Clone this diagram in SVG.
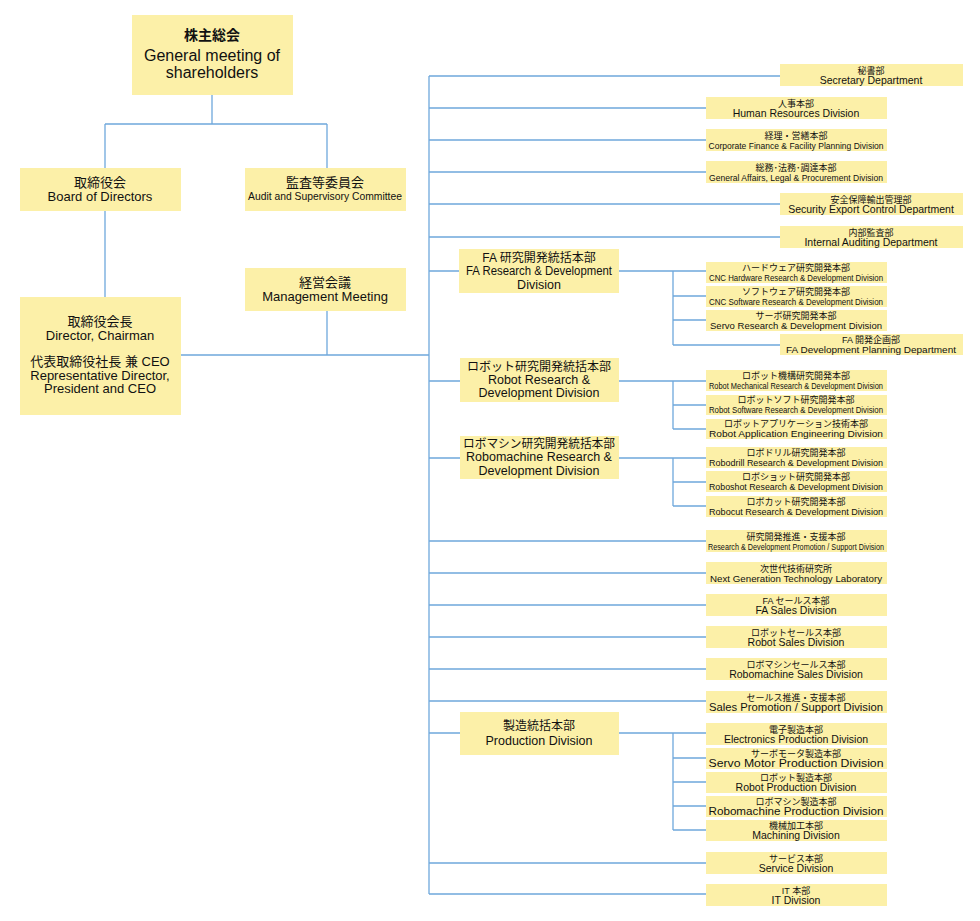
<svg xmlns="http://www.w3.org/2000/svg" width="980" height="921" viewBox="0 0 980 921">
<style>
rect.b{fill:#fcf0a8}
text{font-family:"Liberation Sans","Noto Sans CJK JP",sans-serif;text-anchor:middle;fill:#111}
.j{font-size:9px}.e{font-size:10.5px}.c{font-size:9.5px}
.mj{font-size:12px}.me{font-size:12.5px}
.lj{font-size:13px}.le{font-size:13px}
#conn path{fill:none;stroke:#6fa8dc;stroke-width:1.3}
</style>
<rect width="980" height="921" fill="#fff"/>
<g id="conn">
<path d="M212 95V124M105 124H327M105 124V168M327 124V168M105 211V297M327 311V355M181 355H429M429 76V894"/>
<path d="M429 76H780M429 108H706M429 140H706M429 172H706M429 204H780M429 237H780"/>
<path d="M429 271H459M619 271H706M673 271V345M673 296H706M673 320H706M673 345H780"/>
<path d="M429 381H460M619 381H706M673 381V429M673 405H706M673 429H706"/>
<path d="M429 458H460M619 458H706M673 458V506M673 482H706M673 506H706"/>
<path d="M429 541H706M429 573H706M429 605H706M429 637H706M429 669H706M429 701H706"/>
<path d="M429 733H460M619 733H706M673 733V830M673 758H706M673 782H706M673 806H706M673 830H706"/>
<path d="M429 863H706M429 894H706"/>
</g>
<g id="shareholders"><rect class="b" x="132" y="15" width="161" height="80"/><text x="212" y="40" style="font-size:14px;font-weight:bold">株主総会</text><text x="212" y="61" style="font-size:16px">General meeting of</text><text x="212" y="78" style="font-size:16px">shareholders</text></g>
<g id="board"><rect class="b" x="20" y="168" width="161" height="43"/><text class="lj" x="100" y="187">取締役会</text><text class="le" x="100" y="201">Board of Directors</text></g>
<g id="audit"><rect class="b" x="245" y="168" width="161" height="43"/><text class="lj" x="325" y="187">監査等委員会</text><text x="325" y="200" style="font-size:11px" textLength="154" lengthAdjust="spacingAndGlyphs">Audit and Supervisory Committee</text></g>
<g id="mgmt"><rect class="b" x="245" y="268" width="161" height="43"/><text class="lj" x="325" y="287">経営会議</text><text class="le" x="325" y="301">Management Meeting</text></g>
<g id="chair"><rect class="b" x="20" y="297" width="161" height="118"/><text class="lj" x="100" y="326">取締役会長</text><text class="le" x="100" y="340">Director, Chairman</text><text class="lj" x="100" y="366">代表取締役社長 兼 CEO</text><text class="le" x="100" y="380">Representative Director,</text><text class="le" x="100" y="393">President and CEO</text></g>

<g id="secretary"><rect class="b" x="780" y="64" width="183" height="22"/><text class="j" x="871" y="74">秘書部</text><text class="e" x="871" y="84">Secretary Department</text></g>
<g id="hr"><rect class="b" x="706" y="97" width="181" height="22"/><text class="j" x="796" y="107">人事本部</text><text class="e" x="796" y="117">Human Resources Division</text></g>
<g id="finance"><rect class="b" x="706" y="129" width="181" height="22"/><text class="j" x="796" y="139">経理・営繕本部</text><text class="c" x="796" y="149" textLength="175" lengthAdjust="spacingAndGlyphs">Corporate Finance &amp; Facility Planning Division</text></g>
<g id="general"><rect class="b" x="706" y="161" width="181" height="22"/><text class="j" x="796" y="171">総務･法務･調達本部</text><text class="c" x="796" y="181" textLength="174" lengthAdjust="spacingAndGlyphs">General Affairs, Legal &amp; Procurement Division</text></g>
<g id="security"><rect class="b" x="780" y="193" width="183" height="22"/><text class="j" x="871" y="203">安全保障輸出管理部</text><text class="e" x="871" y="213">Security Export Control Department</text></g>
<g id="audit-dept"><rect class="b" x="780" y="226" width="183" height="22"/><text class="j" x="871" y="236">内部監査部</text><text class="e" x="871" y="246">Internal Auditing Department</text></g>

<g id="fa-rd"><rect class="b" x="459" y="249" width="160" height="44"/><text class="mj" x="539" y="262">FA 研究開発統括本部</text><text class="me" x="539" y="275" textLength="146" lengthAdjust="spacingAndGlyphs">FA Research &amp; Development</text><text class="me" x="539" y="289">Division</text></g>
<g id="cnc-hw"><rect class="b" x="706" y="262" width="181" height="21"/><text class="j" x="796" y="271">ハードウェア研究開発本部</text><text class="c" x="796" y="281" textLength="174" lengthAdjust="spacingAndGlyphs">CNC Hardware Research &amp; Development Division</text></g>
<g id="cnc-sw"><rect class="b" x="706" y="286" width="181" height="21"/><text class="j" x="796" y="295">ソフトウェア研究開発本部</text><text class="c" x="796" y="305" textLength="174" lengthAdjust="spacingAndGlyphs">CNC Software Research &amp; Development Division</text></g>
<g id="servo-rd"><rect class="b" x="706" y="310" width="181" height="21"/><text class="j" x="796" y="319">サーボ研究開発本部</text><text class="c" x="796" y="329" textLength="172" lengthAdjust="spacingAndGlyphs">Servo Research &amp; Development Division</text></g>
<g id="fa-plan"><rect class="b" x="780" y="334" width="183" height="21"/><text class="j" x="871" y="343">FA 開発企画部</text><text class="c" x="871" y="353" textLength="170" lengthAdjust="spacingAndGlyphs">FA Development Planning Department</text></g>

<g id="robot-rd"><rect class="b" x="460" y="358" width="159" height="44"/><text class="mj" x="539" y="371">ロボット研究開発統括本部</text><text class="me" x="539" y="384">Robot Research &amp;</text><text class="me" x="539" y="397">Development Division</text></g>
<g id="robot-mech"><rect class="b" x="706" y="370" width="181" height="21"/><text class="j" x="796" y="379">ロボット機構研究開発本部</text><text class="c" x="796" y="389" textLength="174" lengthAdjust="spacingAndGlyphs">Robot Mechanical Research &amp; Development Division</text></g>
<g id="robot-sw"><rect class="b" x="706" y="395" width="181" height="20"/><text class="j" x="796" y="403">ロボットソフト研究開発本部</text><text class="c" x="796" y="413" textLength="174" lengthAdjust="spacingAndGlyphs">Robot Software Research &amp; Development Division</text></g>
<g id="robot-app"><rect class="b" x="706" y="419" width="181" height="20"/><text class="j" x="796" y="427">ロボットアプリケーション技術本部</text><text class="c" x="796" y="437" textLength="174" lengthAdjust="spacingAndGlyphs">Robot Application Engineering Division</text></g>

<g id="robomachine-rd"><rect class="b" x="460" y="436" width="159" height="43"/><text class="mj" x="539" y="448" textLength="152" lengthAdjust="spacingAndGlyphs">ロボマシン研究開発統括本部</text><text class="me" x="539" y="461">Robomachine Research &amp;</text><text class="me" x="539" y="475">Development Division</text></g>
<g id="robodrill"><rect class="b" x="706" y="447" width="181" height="21"/><text class="j" x="796" y="456">ロボドリル研究開発本部</text><text class="c" x="796" y="466" textLength="174" lengthAdjust="spacingAndGlyphs">Robodrill Research &amp; Development Division</text></g>
<g id="roboshot"><rect class="b" x="706" y="471" width="181" height="21"/><text class="j" x="796" y="480">ロボショット研究開発本部</text><text class="c" x="796" y="490" textLength="174" lengthAdjust="spacingAndGlyphs">Roboshot Research &amp; Development Division</text></g>
<g id="robocut"><rect class="b" x="706" y="496" width="181" height="21"/><text class="j" x="796" y="505">ロボカット研究開発本部</text><text class="c" x="796" y="515" textLength="174" lengthAdjust="spacingAndGlyphs">Robocut Research &amp; Development Division</text></g>

<g id="rd-promo"><rect class="b" x="706" y="530" width="181" height="22"/><text class="j" x="796" y="540">研究開発推進・支援本部</text><text class="c" x="796" y="550" textLength="176" lengthAdjust="spacingAndGlyphs">Research &amp; Development Promotion / Support Division</text></g>
<g id="nextgen"><rect class="b" x="706" y="562" width="181" height="22"/><text class="j" x="796" y="572">次世代技術研究所</text><text class="c" x="796" y="582" textLength="172" lengthAdjust="spacingAndGlyphs">Next Generation Technology Laboratory</text></g>
<g id="fa-sales"><rect class="b" x="706" y="594" width="181" height="22"/><text class="j" x="796" y="604">FA セールス本部</text><text class="e" x="796" y="614">FA Sales Division</text></g>
<g id="robot-sales"><rect class="b" x="706" y="626" width="181" height="22"/><text class="j" x="796" y="636">ロボットセールス本部</text><text class="e" x="796" y="646">Robot Sales Division</text></g>
<g id="robomachine-sales"><rect class="b" x="706" y="658" width="181" height="22"/><text class="j" x="796" y="668">ロボマシンセールス本部</text><text class="e" x="796" y="678">Robomachine Sales Division</text></g>
<g id="sales-promo"><rect class="b" x="706" y="691" width="181" height="22"/><text class="j" x="796" y="701">セールス推進・支援本部</text><text class="e" x="796" y="711" textLength="174" lengthAdjust="spacingAndGlyphs">Sales Promotion / Support Division</text></g>

<g id="production"><rect class="b" x="460" y="712" width="159" height="43"/><text class="mj" x="539" y="730">製造統括本部</text><text class="me" x="539" y="745">Production Division</text></g>
<g id="electronics"><rect class="b" x="706" y="723" width="181" height="22"/><text class="j" x="796" y="733">電子製造本部</text><text class="e" x="796" y="743">Electronics Production Division</text></g>
<g id="servo-prod"><rect class="b" x="706" y="748" width="181" height="21"/><text class="j" x="796" y="757">サーボモータ製造本部</text><text class="e" x="796" y="767" textLength="175" lengthAdjust="spacingAndGlyphs">Servo Motor Production Division</text></g>
<g id="robot-prod"><rect class="b" x="706" y="772" width="181" height="21"/><text class="j" x="796" y="781">ロボット製造本部</text><text class="e" x="796" y="791">Robot Production Division</text></g>
<g id="robomachine-prod"><rect class="b" x="706" y="796" width="181" height="21"/><text class="j" x="796" y="805">ロボマシン製造本部</text><text class="e" x="796" y="815" textLength="175" lengthAdjust="spacingAndGlyphs">Robomachine Production Division</text></g>
<g id="machining"><rect class="b" x="706" y="820" width="181" height="21"/><text class="j" x="796" y="829">機械加工本部</text><text class="e" x="796" y="839">Machining Division</text></g>
<g id="service"><rect class="b" x="706" y="852" width="181" height="22"/><text class="j" x="796" y="862">サービス本部</text><text class="e" x="796" y="872">Service Division</text></g>
<g id="it"><rect class="b" x="706" y="884" width="181" height="22"/><text class="j" x="796" y="894">IT 本部</text><text class="e" x="796" y="904">IT Division</text></g>
</svg>
